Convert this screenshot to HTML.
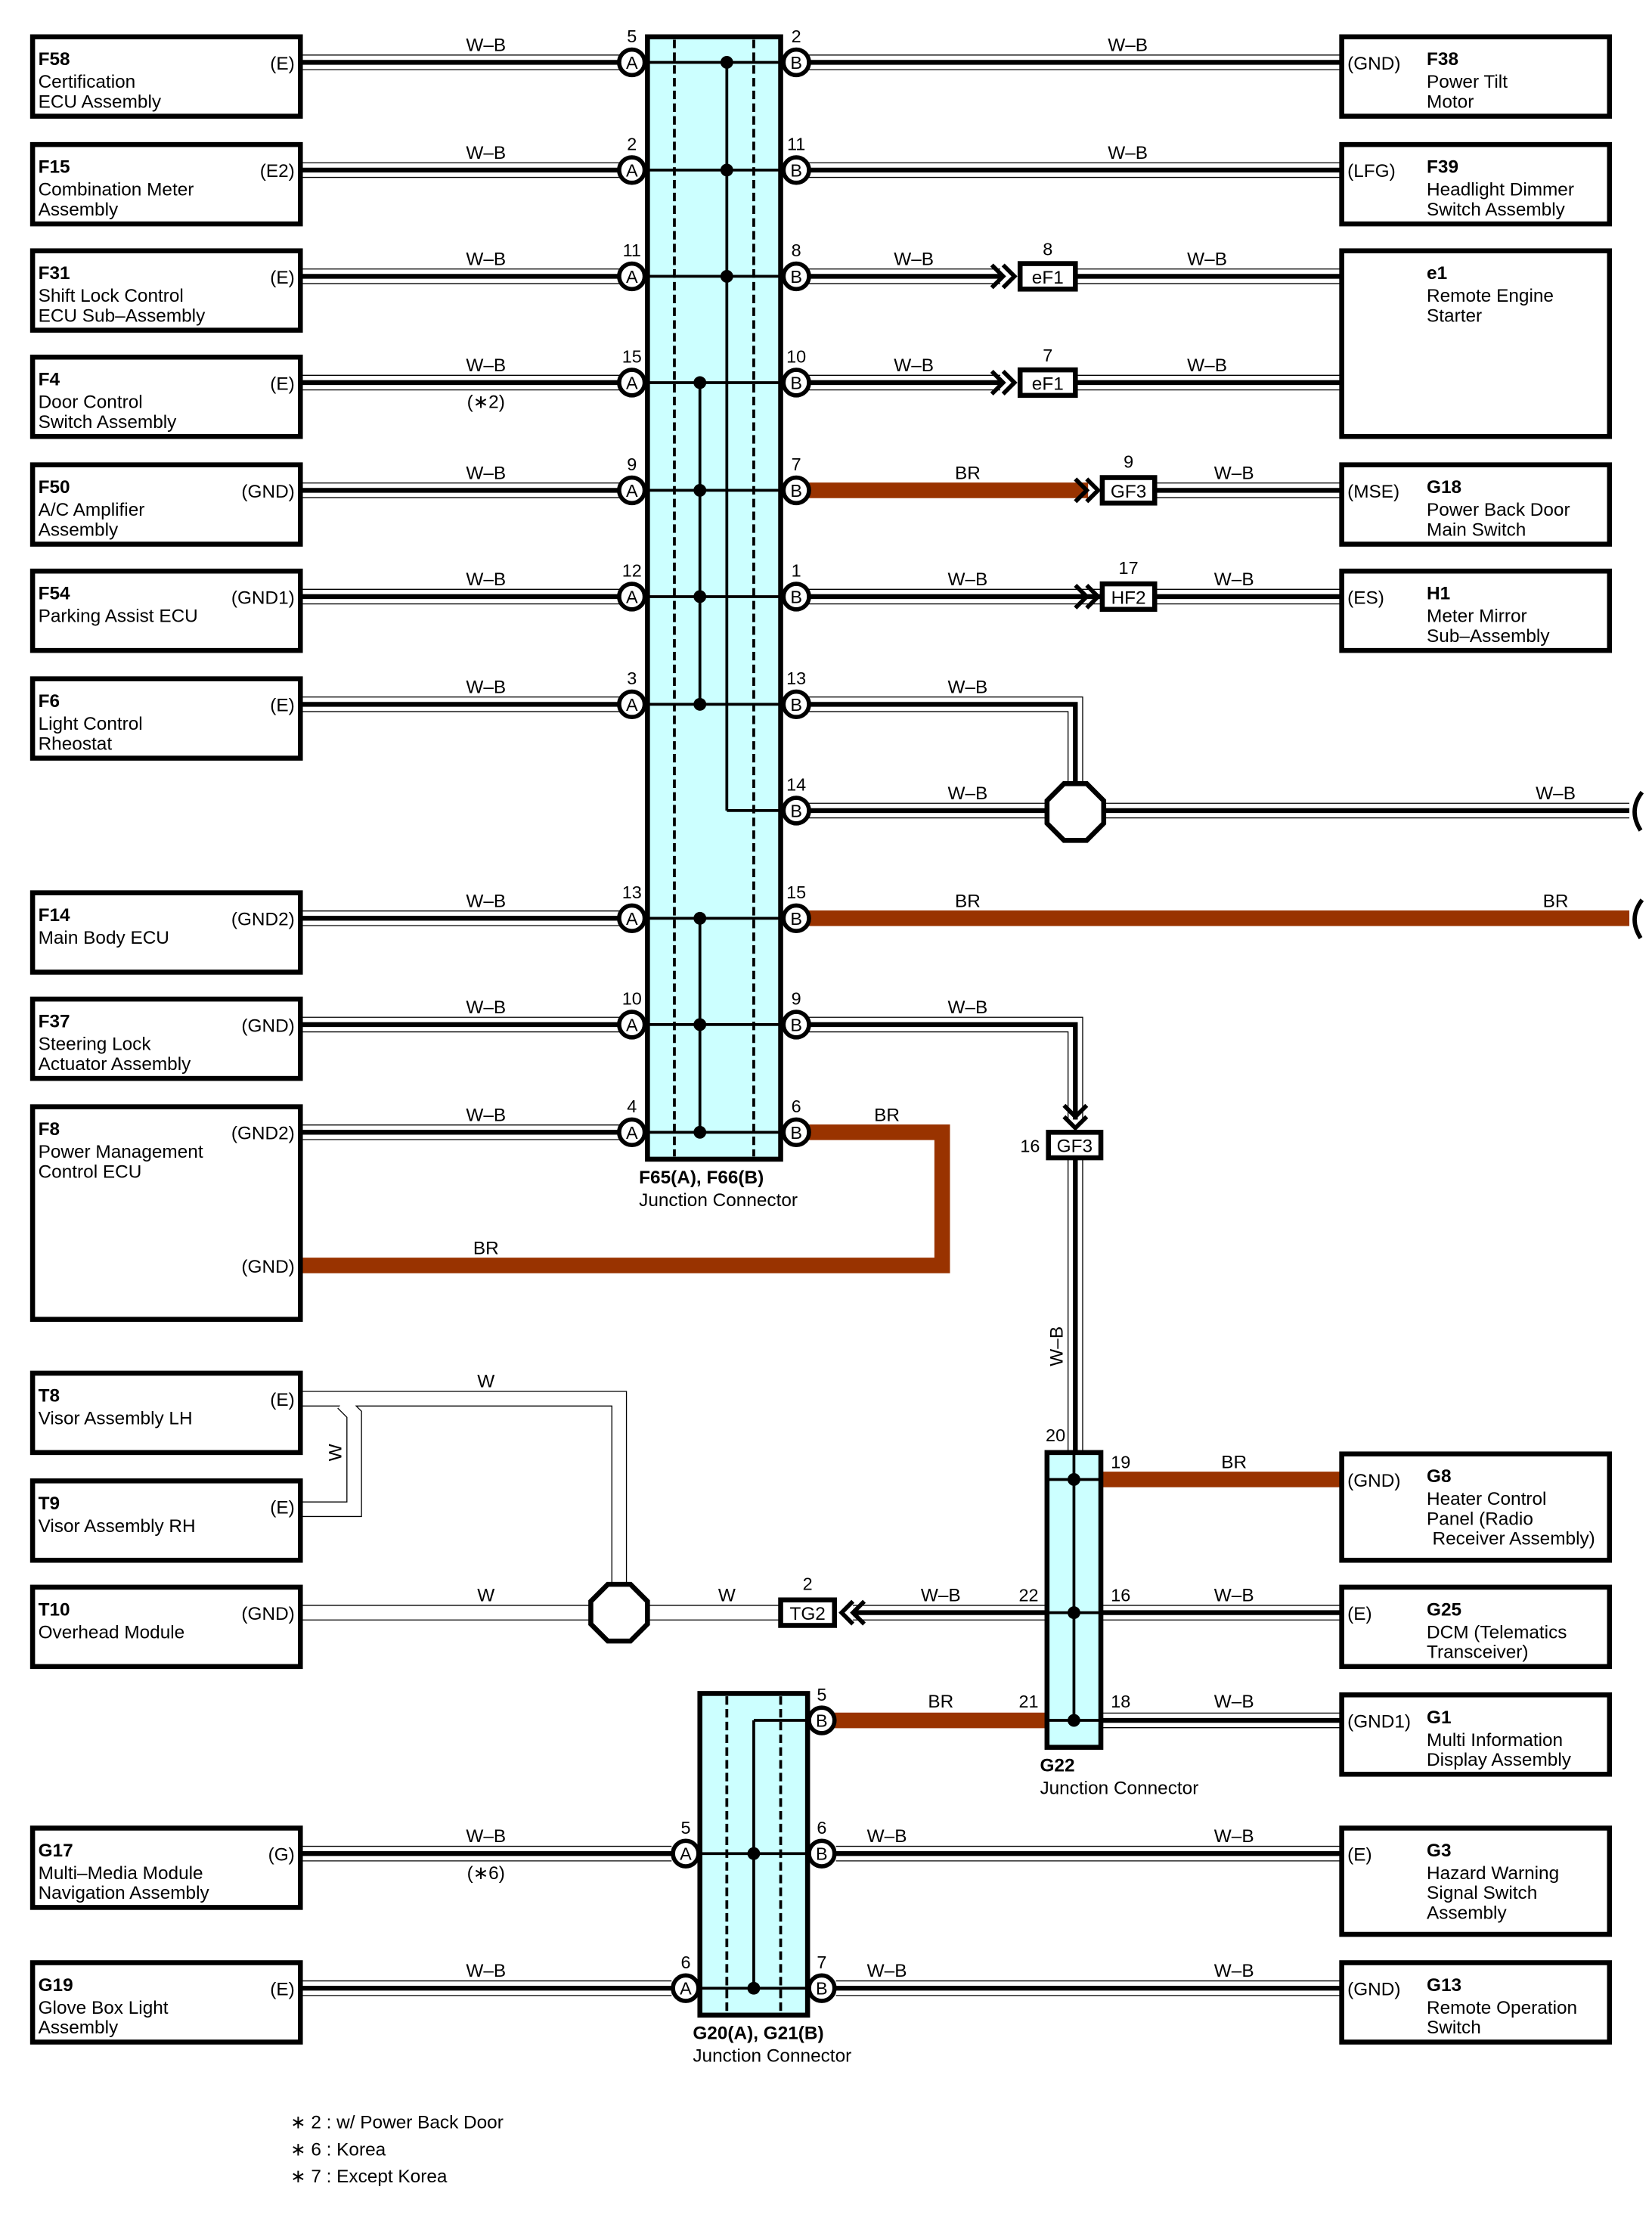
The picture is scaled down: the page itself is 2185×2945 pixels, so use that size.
<!DOCTYPE html>
<html><head><meta charset="utf-8">
<style>
html,body{margin:0;padding:0;background:#fff;}
svg{display:block;}
text{font-family:"Liberation Sans",sans-serif;font-size:13px;fill:#000;}
.b{font-weight:bold;}
.o{stroke:#000;stroke-width:11;fill:none;}
.w{stroke:#fff;stroke-width:9.6;fill:none;}
.c{stroke:#000;stroke-width:3.4;fill:none;}
.wo{stroke:#000;stroke-width:11;fill:none;}
.ww{stroke:#fff;stroke-width:9.6;fill:none;}
.br{stroke:#993300;stroke-width:11;fill:none;}
.box{fill:#fff;stroke:#000;stroke-width:3.5;}
.jc{fill:#ccffff;stroke:#000;stroke-width:3.5;}
.dash{stroke:#000;stroke-width:2;stroke-dasharray:6,3;fill:none;}
.ln{stroke:#000;stroke-width:2;fill:none;}
.pin{fill:#fff;stroke:#000;stroke-width:3;}
.chev{stroke:#000;stroke-width:3;fill:none;}
.oct{fill:#fff;stroke:#000;stroke-width:3.5;}
.sm{font-size:12.5px;}
</style></head><body>
<svg width="2185" height="2945" viewBox="0 0 1166 1571.5" preserveAspectRatio="none" xmlns="http://www.w3.org/2000/svg">
<rect width="1166" height="1571.5" fill="#fff"/>

<g>
<path class="o" d="M212 44H437M212 120H437M212 195H437M212 270H437M212 346H437M212 421H437M212 497H437M212 648H437M212 723H437M212 799H437
M571 44H947M571 120H947M571 195H706M759 195H947M571 270H706M759 270H947M815 346H947M571 421H784M815 421H947
M571 497H759V560M571 572H1150M571 723H759V790M759 817V1025
M777 1138H947M777 1214H947M602 1138H739
M212 1308H474M212 1403H474M590 1308H947M590 1403H947"/>
<path class="w" d="M212 44H437M212 120H437M212 195H437M212 270H437M212 346H437M212 421H437M212 497H437M212 648H437M212 723H437M212 799H437
M571 44H947M571 120H947M571 195H706M759 195H947M571 270H706M759 270H947M815 346H947M571 421H784M815 421H947
M571 497H759V560M571 572H1150M571 723H759V790M759 817V1025
M777 1138H947M777 1214H947M602 1138H739
M212 1308H474M212 1403H474M590 1308H947M590 1403H947"/>
<path class="c" d="M212 44H437M212 120H437M212 195H437M212 270H437M212 346H437M212 421H437M212 497H437M212 648H437M212 723H437M212 799H437
M571 44H947M571 120H947M571 195H706M759 195H947M571 270H706M759 270H947M815 346H947M571 421H784M815 421H947
M571 497H759V560M571 572H1150M571 723H759V790M759 817V1025
M777 1138H947M777 1214H947M602 1138H739
M212 1308H474M212 1403H474M590 1308H947M590 1403H947"/>
</g>
<path class="wo" d="M212 987H437V1120M212 1138H551M212 1065H250V998L242 990"/>
<path class="ww" d="M212 987H437V1120M212 1138H551M212 1065H250V998L242 990"/>
<path class="br" d="M571 346H768M571 648H1150M571 799H665V893H212M777 1044H947M589 1214H739"/>

<path d="M1159 559Q1149 572 1158 586" stroke="#000" stroke-width="3" fill="none"/>
<path d="M1159 635Q1149 648 1158 662" stroke="#000" stroke-width="3" fill="none"/>

<path class="chev" d="M700 187L708 195L700 203M708 187L716 195L708 203
M700 262L708 270L700 278M708 262L716 270L708 278
M759 338L767 346L759 354M767 338L775 346L767 354
M759 413L767 421L759 429M767 413L775 421L767 429
M751 780L759 788L767 780M751 788L759 796L767 788
M602 1130L594 1138L602 1146M610 1130L602 1138L610 1146"/>

<rect class="box" x="720" y="186" width="39" height="18"/><text x="739.5" y="200" text-anchor="middle">eF1</text><text x="739.5" y="180" text-anchor="middle" class="sm">8</text>
<rect class="box" x="720" y="261" width="39" height="18"/><text x="739.5" y="275" text-anchor="middle">eF1</text><text x="739.5" y="255" text-anchor="middle" class="sm">7</text>
<rect class="box" x="778" y="337" width="37" height="18"/><text x="796.5" y="351" text-anchor="middle">GF3</text><text x="796.5" y="330" text-anchor="middle" class="sm">9</text>
<rect class="box" x="778" y="412" width="37" height="18"/><text x="796.5" y="426" text-anchor="middle">HF2</text><text x="796.5" y="405" text-anchor="middle" class="sm">17</text>
<rect class="box" x="740" y="799" width="37" height="18"/><text x="758.5" y="813" text-anchor="middle">GF3</text><text x="727" y="813" text-anchor="middle" class="sm">16</text>
<rect class="box" x="551" y="1129" width="38" height="18"/><text x="570" y="1143" text-anchor="middle">TG2</text><text x="570" y="1122" text-anchor="middle" class="sm">2</text>

<polygon class="oct" points="751,553 767,553 779,565 779,581 767,593 751,593 739,581 739,565"/>
<polygon class="oct" points="429,1118 445,1118 457,1130 457,1146 445,1158 429,1158 417,1146 417,1130"/>

<rect class="jc" x="457" y="26" width="94" height="792"/>
<path class="dash" d="M476 28V816M532 28V816"/>
<path class="ln" d="M457 44H551M457 120H551M457 195H551M457 270H551M457 346H551M457 421H551M457 497H551M513 572H551M457 648H551M457 723H551M457 799H551
M513 44V572M494 270V497M494 648V799"/>
<g fill="#000">
<circle cx="513" cy="44" r="4.5"/><circle cx="513" cy="120" r="4.5"/><circle cx="513" cy="195" r="4.5"/>
<circle cx="494" cy="270" r="4.5"/><circle cx="494" cy="346" r="4.5"/><circle cx="494" cy="421" r="4.5"/><circle cx="494" cy="497" r="4.5"/>
<circle cx="494" cy="648" r="4.5"/><circle cx="494" cy="723" r="4.5"/><circle cx="494" cy="799" r="4.5"/>
</g>
<text x="451" y="835" class="b">F65(A), F66(B)</text>
<text x="451" y="851">Junction Connector</text>

<rect class="jc" x="739" y="1025" width="38" height="208"/>
<path class="ln" d="M758 1025V1214M739 1044H777M739 1138H777M739 1214H777"/>
<g fill="#000">
<circle cx="758" cy="1044" r="4.5"/><circle cx="758" cy="1138" r="4.5"/><circle cx="758" cy="1214" r="4.5"/>
</g>
<text x="734" y="1250" class="b">G22</text>
<text x="734" y="1266">Junction Connector</text>
<text x="745" y="1017" text-anchor="middle" class="sm">20</text>
<text x="791" y="1036" text-anchor="middle" class="sm">19</text>
<text x="726" y="1130" text-anchor="middle" class="sm">22</text>
<text x="791" y="1130" text-anchor="middle" class="sm">16</text>
<text x="726" y="1205" text-anchor="middle" class="sm">21</text>
<text x="791" y="1205" text-anchor="middle" class="sm">18</text>

<rect class="jc" x="494" y="1195" width="76" height="227"/>
<path class="dash" d="M513 1197V1420M551 1197V1420"/>
<path class="ln" d="M532 1214V1403M532 1214H570M494 1308H570M494 1403H570"/>
<g fill="#000"><circle cx="532" cy="1308" r="4.5"/><circle cx="532" cy="1403" r="4.5"/></g>
<text x="489" y="1439" class="b">G20(A), G21(B)</text>
<text x="489" y="1455">Junction Connector</text>

<g>
<circle class="pin" cx="446" cy="44" r="9"/><circle class="pin" cx="446" cy="120" r="9"/><circle class="pin" cx="446" cy="195" r="9"/><circle class="pin" cx="446" cy="270" r="9"/><circle class="pin" cx="446" cy="346" r="9"/><circle class="pin" cx="446" cy="421" r="9"/><circle class="pin" cx="446" cy="497" r="9"/><circle class="pin" cx="446" cy="648" r="9"/><circle class="pin" cx="446" cy="723" r="9"/><circle class="pin" cx="446" cy="799" r="9"/>
<circle class="pin" cx="484" cy="1308" r="9"/><circle class="pin" cx="484" cy="1403" r="9"/>
</g>
<g>
<text x="446" y="48.5" text-anchor="middle" class="sm">A</text><text x="446" y="124.5" text-anchor="middle" class="sm">A</text><text x="446" y="199.5" text-anchor="middle" class="sm">A</text><text x="446" y="274.5" text-anchor="middle" class="sm">A</text><text x="446" y="350.5" text-anchor="middle" class="sm">A</text><text x="446" y="425.5" text-anchor="middle" class="sm">A</text><text x="446" y="501.5" text-anchor="middle" class="sm">A</text><text x="446" y="652.5" text-anchor="middle" class="sm">A</text><text x="446" y="727.5" text-anchor="middle" class="sm">A</text><text x="446" y="803.5" text-anchor="middle" class="sm">A</text>
<text x="484" y="1312.5" text-anchor="middle" class="sm">A</text><text x="484" y="1407.5" text-anchor="middle" class="sm">A</text>
</g>
<g>
<circle class="pin" cx="562" cy="44" r="9"/><circle class="pin" cx="562" cy="120" r="9"/><circle class="pin" cx="562" cy="195" r="9"/><circle class="pin" cx="562" cy="270" r="9"/><circle class="pin" cx="562" cy="346" r="9"/><circle class="pin" cx="562" cy="421" r="9"/><circle class="pin" cx="562" cy="497" r="9"/><circle class="pin" cx="562" cy="572" r="9"/><circle class="pin" cx="562" cy="648" r="9"/><circle class="pin" cx="562" cy="723" r="9"/><circle class="pin" cx="562" cy="799" r="9"/>
<circle class="pin" cx="580" cy="1214" r="9"/><circle class="pin" cx="580" cy="1308" r="9"/><circle class="pin" cx="580" cy="1403" r="9"/>
</g>
<g>
<text x="562" y="48.5" text-anchor="middle" class="sm">B</text><text x="562" y="124.5" text-anchor="middle" class="sm">B</text><text x="562" y="199.5" text-anchor="middle" class="sm">B</text><text x="562" y="274.5" text-anchor="middle" class="sm">B</text><text x="562" y="350.5" text-anchor="middle" class="sm">B</text><text x="562" y="425.5" text-anchor="middle" class="sm">B</text><text x="562" y="501.5" text-anchor="middle" class="sm">B</text><text x="562" y="576.5" text-anchor="middle" class="sm">B</text><text x="562" y="652.5" text-anchor="middle" class="sm">B</text><text x="562" y="727.5" text-anchor="middle" class="sm">B</text><text x="562" y="803.5" text-anchor="middle" class="sm">B</text>
<text x="580" y="1218.5" text-anchor="middle" class="sm">B</text><text x="580" y="1312.5" text-anchor="middle" class="sm">B</text><text x="580" y="1407.5" text-anchor="middle" class="sm">B</text>
</g>
<g>
<text x="446" y="30" text-anchor="middle" class="sm">5</text><text x="446" y="106" text-anchor="middle" class="sm">2</text><text x="446" y="181" text-anchor="middle" class="sm">11</text><text x="446" y="256" text-anchor="middle" class="sm">15</text><text x="446" y="332" text-anchor="middle" class="sm">9</text><text x="446" y="407" text-anchor="middle" class="sm">12</text><text x="446" y="483" text-anchor="middle" class="sm">3</text><text x="446" y="634" text-anchor="middle" class="sm">13</text><text x="446" y="709" text-anchor="middle" class="sm">10</text><text x="446" y="785" text-anchor="middle" class="sm">4</text>
<text x="562" y="30" text-anchor="middle" class="sm">2</text><text x="562" y="106" text-anchor="middle" class="sm">11</text><text x="562" y="181" text-anchor="middle" class="sm">8</text><text x="562" y="256" text-anchor="middle" class="sm">10</text><text x="562" y="332" text-anchor="middle" class="sm">7</text><text x="562" y="407" text-anchor="middle" class="sm">1</text><text x="562" y="483" text-anchor="middle" class="sm">13</text><text x="562" y="558" text-anchor="middle" class="sm">14</text><text x="562" y="634" text-anchor="middle" class="sm">15</text><text x="562" y="709" text-anchor="middle" class="sm">9</text><text x="562" y="785" text-anchor="middle" class="sm">6</text>
<text x="580" y="1200" text-anchor="middle" class="sm">5</text><text x="580" y="1294" text-anchor="middle" class="sm">6</text><text x="580" y="1389" text-anchor="middle" class="sm">7</text>
<text x="484" y="1294" text-anchor="middle" class="sm">5</text><text x="484" y="1389" text-anchor="middle" class="sm">6</text>
</g>

<g>
<text x="343" y="36" text-anchor="middle">W–B</text><text x="343" y="112" text-anchor="middle">W–B</text><text x="343" y="187" text-anchor="middle">W–B</text><text x="343" y="262" text-anchor="middle">W–B</text><text x="343" y="288" text-anchor="middle">(∗2)</text><text x="343" y="338" text-anchor="middle">W–B</text><text x="343" y="413" text-anchor="middle">W–B</text><text x="343" y="489" text-anchor="middle">W–B</text><text x="343" y="640" text-anchor="middle">W–B</text><text x="343" y="715" text-anchor="middle">W–B</text><text x="343" y="791" text-anchor="middle">W–B</text><text x="343" y="885" text-anchor="middle">BR</text>
<text x="796" y="36" text-anchor="middle">W–B</text><text x="796" y="112" text-anchor="middle">W–B</text>
<text x="645" y="187" text-anchor="middle">W–B</text><text x="852" y="187" text-anchor="middle">W–B</text>
<text x="645" y="262" text-anchor="middle">W–B</text><text x="852" y="262" text-anchor="middle">W–B</text>
<text x="683" y="338" text-anchor="middle">BR</text><text x="871" y="338" text-anchor="middle">W–B</text>
<text x="683" y="413" text-anchor="middle">W–B</text><text x="871" y="413" text-anchor="middle">W–B</text>
<text x="683" y="489" text-anchor="middle">W–B</text>
<text x="683" y="564" text-anchor="middle">W–B</text><text x="1098" y="564" text-anchor="middle">W–B</text>
<text x="683" y="640" text-anchor="middle">BR</text><text x="1098" y="640" text-anchor="middle">BR</text>
<text x="683" y="715" text-anchor="middle">W–B</text>
<text x="626" y="791" text-anchor="middle">BR</text>
<text x="343" y="979" text-anchor="middle">W</text>
<text x="343" y="1130" text-anchor="middle">W</text><text x="513" y="1130" text-anchor="middle">W</text>
<text x="664" y="1130" text-anchor="middle">W–B</text>
<text x="871" y="1036" text-anchor="middle">BR</text><text x="871" y="1130" text-anchor="middle">W–B</text><text x="871" y="1205" text-anchor="middle">W–B</text>
<text x="664" y="1205" text-anchor="middle">BR</text>
<text x="343" y="1300" text-anchor="middle">W–B</text><text x="343" y="1326" text-anchor="middle">(∗6)</text><text x="343" y="1395" text-anchor="middle">W–B</text>
<text x="626" y="1300" text-anchor="middle">W–B</text><text x="871" y="1300" text-anchor="middle">W–B</text>
<text x="626" y="1395" text-anchor="middle">W–B</text><text x="871" y="1395" text-anchor="middle">W–B</text>
</g>
<text transform="translate(750,950) rotate(-90)" text-anchor="middle">W–B</text>
<text transform="translate(241,1025) rotate(-90)" text-anchor="middle">W</text>

<rect class="box" x="23" y="26" width="189" height="56"/>
<text x="27" y="46" class="b">F58</text><text x="27" y="62">Certification</text><text x="27" y="76">ECU Assembly</text><text x="208" y="49" text-anchor="end">(E)</text>
<rect class="box" x="23" y="102" width="189" height="56"/>
<text x="27" y="122" class="b">F15</text><text x="27" y="138">Combination Meter</text><text x="27" y="152">Assembly</text><text x="208" y="125" text-anchor="end">(E2)</text>
<rect class="box" x="23" y="177" width="189" height="56"/>
<text x="27" y="197" class="b">F31</text><text x="27" y="213">Shift Lock Control</text><text x="27" y="227">ECU Sub–Assembly</text><text x="208" y="200" text-anchor="end">(E)</text>
<rect class="box" x="23" y="252" width="189" height="56"/>
<text x="27" y="272" class="b">F4</text><text x="27" y="288">Door Control</text><text x="27" y="302">Switch Assembly</text><text x="208" y="275" text-anchor="end">(E)</text>
<rect class="box" x="23" y="328" width="189" height="56"/>
<text x="27" y="348" class="b">F50</text><text x="27" y="364">A/C Amplifier</text><text x="27" y="378">Assembly</text><text x="208" y="351" text-anchor="end">(GND)</text>
<rect class="box" x="23" y="403" width="189" height="56"/>
<text x="27" y="423" class="b">F54</text><text x="27" y="439">Parking Assist ECU</text><text x="208" y="426" text-anchor="end">(GND1)</text>
<rect class="box" x="23" y="479" width="189" height="56"/>
<text x="27" y="499" class="b">F6</text><text x="27" y="515">Light Control</text><text x="27" y="529">Rheostat</text><text x="208" y="502" text-anchor="end">(E)</text>
<rect class="box" x="23" y="630" width="189" height="56"/>
<text x="27" y="650" class="b">F14</text><text x="27" y="666">Main Body ECU</text><text x="208" y="653" text-anchor="end">(GND2)</text>
<rect class="box" x="23" y="705" width="189" height="56"/>
<text x="27" y="725" class="b">F37</text><text x="27" y="741">Steering Lock</text><text x="27" y="755">Actuator Assembly</text><text x="208" y="728" text-anchor="end">(GND)</text>
<rect class="box" x="23" y="781" width="189" height="150"/>
<text x="27" y="801" class="b">F8</text><text x="27" y="817">Power Management</text><text x="27" y="831">Control ECU</text><text x="208" y="804" text-anchor="end">(GND2)</text><text x="208" y="898" text-anchor="end">(GND)</text>
<rect class="box" x="23" y="969" width="189" height="56"/>
<text x="27" y="989" class="b">T8</text><text x="27" y="1005">Visor Assembly LH</text><text x="208" y="992" text-anchor="end">(E)</text>
<rect class="box" x="23" y="1045" width="189" height="56"/>
<text x="27" y="1065" class="b">T9</text><text x="27" y="1081">Visor Assembly RH</text><text x="208" y="1068" text-anchor="end">(E)</text>
<rect class="box" x="23" y="1120" width="189" height="56"/>
<text x="27" y="1140" class="b">T10</text><text x="27" y="1156">Overhead Module</text><text x="208" y="1143" text-anchor="end">(GND)</text>
<rect class="box" x="23" y="1290" width="189" height="56"/>
<text x="27" y="1310" class="b">G17</text><text x="27" y="1326">Multi–Media Module</text><text x="27" y="1340">Navigation Assembly</text><text x="208" y="1313" text-anchor="end">(G)</text>
<rect class="box" x="23" y="1385" width="189" height="56"/>
<text x="27" y="1405" class="b">G19</text><text x="27" y="1421">Glove Box Light</text><text x="27" y="1435">Assembly</text><text x="208" y="1408" text-anchor="end">(E)</text>

<rect class="box" x="947" y="26" width="189" height="56"/>
<text x="951" y="49">(GND)</text><text x="1007" y="46" class="b">F38</text><text x="1007" y="62">Power Tilt</text><text x="1007" y="76">Motor</text>
<rect class="box" x="947" y="102" width="189" height="56"/>
<text x="951" y="125">(LFG)</text><text x="1007" y="122" class="b">F39</text><text x="1007" y="138">Headlight Dimmer</text><text x="1007" y="152">Switch Assembly</text>
<rect class="box" x="947" y="177" width="189" height="131"/>
<text x="1007" y="197" class="b">e1</text><text x="1007" y="213">Remote Engine</text><text x="1007" y="227">Starter</text>
<rect class="box" x="947" y="328" width="189" height="56"/>
<text x="951" y="351">(MSE)</text><text x="1007" y="348" class="b">G18</text><text x="1007" y="364">Power Back Door</text><text x="1007" y="378">Main Switch</text>
<rect class="box" x="947" y="403" width="189" height="56"/>
<text x="951" y="426">(ES)</text><text x="1007" y="423" class="b">H1</text><text x="1007" y="439">Meter Mirror</text><text x="1007" y="453">Sub–Assembly</text>
<rect class="box" x="947" y="1026" width="189" height="75"/>
<text x="951" y="1049">(GND)</text><text x="1007" y="1046" class="b">G8</text><text x="1007" y="1062">Heater Control</text><text x="1007" y="1076">Panel (Radio</text><text x="1011" y="1090">Receiver Assembly)</text>
<rect class="box" x="947" y="1120" width="189" height="56"/>
<text x="951" y="1143">(E)</text><text x="1007" y="1140" class="b">G25</text><text x="1007" y="1156">DCM (Telematics</text><text x="1007" y="1170">Transceiver)</text>
<rect class="box" x="947" y="1196" width="189" height="56"/>
<text x="951" y="1219">(GND1)</text><text x="1007" y="1216" class="b">G1</text><text x="1007" y="1232">Multi Information</text><text x="1007" y="1246">Display Assembly</text>
<rect class="box" x="947" y="1290" width="189" height="75"/>
<text x="951" y="1313">(E)</text><text x="1007" y="1310" class="b">G3</text><text x="1007" y="1326">Hazard Warning</text><text x="1007" y="1340">Signal Switch</text><text x="1007" y="1354">Assembly</text>
<rect class="box" x="947" y="1385" width="189" height="56"/>
<text x="951" y="1408">(GND)</text><text x="1007" y="1405" class="b">G13</text><text x="1007" y="1421">Remote Operation</text><text x="1007" y="1435">Switch</text>

<text x="205" y="1502">∗ 2 : w/ Power Back Door</text>
<text x="205" y="1521">∗ 6 : Korea</text>
<text x="205" y="1540">∗ 7 : Except Korea</text>
</svg>
</body></html>
